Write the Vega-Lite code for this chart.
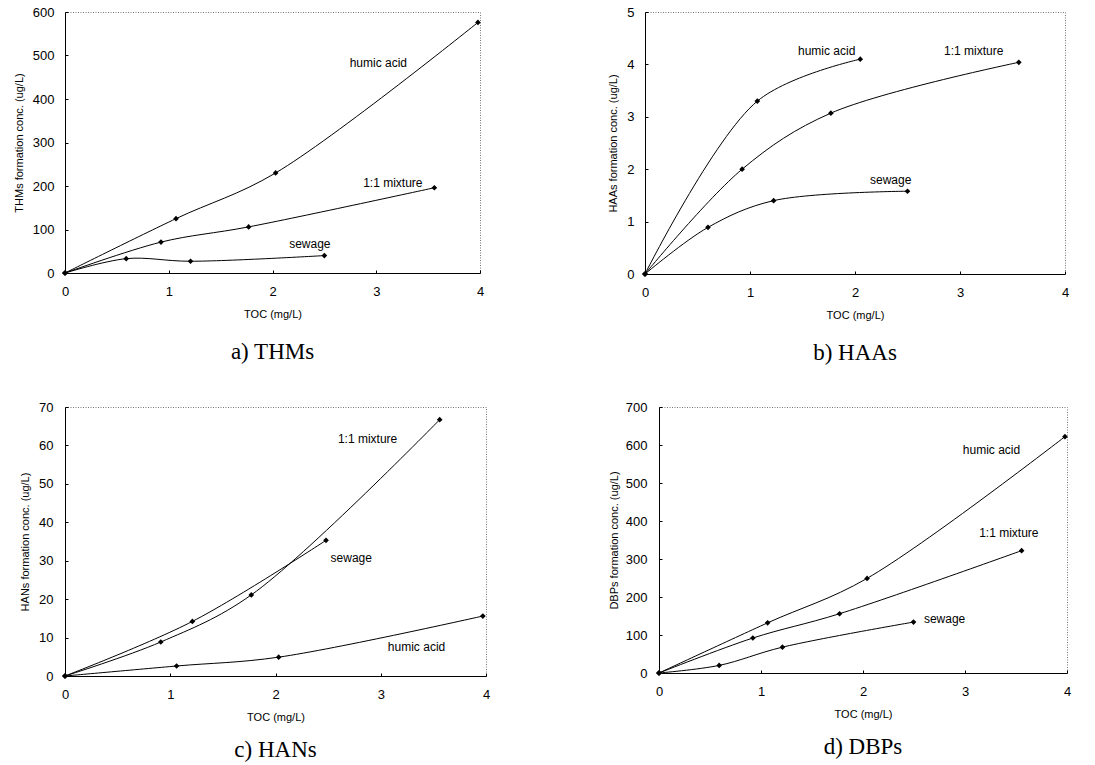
{
  "$schema": "https://vega.github.io/schema/vega-lite/v6.json",
  "padding": {"left": 12, "top": 5, "right": 5, "bottom": 0},
  "background": "white",
  "config": {
    "view": {"stroke": "#777777", "strokeDash": [1, 1.5], "strokeWidth": 1},
    "axis": {
      "domainColor": "black", "domainWidth": 1, "grid": false,
      "tickColor": "black", "tickSize": -3, "tickWidth": 1, "labelOverlap": false, "labelFlush": false,
      "labelFont": "Liberation Sans", "labelFontSize": 13, "labelColor": "black",
      "titleFont": "Liberation Sans", "titleFontSize": 11, "titleFontWeight": "normal", "titleColor": "black"
    },
    "axisX": {"labelPadding": 15, "titlePadding": 10, "format": "d"},
    "axisY": {"labelPadding": 14, "titlePadding": 8},
    "title": {"font": "Liberation Serif", "fontSize": 23, "fontWeight": "normal", "color": "black", "orient": "bottom", "frame": "group", "anchor": "middle", "offset": 22},
    "text": {"font": "Liberation Sans", "fontSize": 12, "color": "black"}
  },
  "datasets": {
    "thm": [
      {"series": "humic acid", "toc": 0, "conc": 0},
      {"series": "humic acid", "toc": 1.07, "conc": 125},
      {"series": "humic acid", "toc": 2.03, "conc": 230},
      {"series": "humic acid", "toc": 3.98, "conc": 576},
      {"series": "1:1 mixture", "toc": 0, "conc": 0},
      {"series": "1:1 mixture", "toc": 0.925, "conc": 71},
      {"series": "1:1 mixture", "toc": 1.77, "conc": 106},
      {"series": "1:1 mixture", "toc": 3.56, "conc": 196},
      {"series": "sewage", "toc": 0, "conc": 0},
      {"series": "sewage", "toc": 0.59, "conc": 33},
      {"series": "sewage", "toc": 1.21, "conc": 27},
      {"series": "sewage", "toc": 2.5, "conc": 40}
    ],
    "thmLab": [
      {"toc": 3.02, "conc": 482, "label": "humic acid"},
      {"toc": 3.16, "conc": 206, "label": "1:1 mixture"},
      {"toc": 2.36, "conc": 66, "label": "sewage"}
    ],
    "haa": [
      {"series": "humic acid", "toc": 0, "conc": 0},
      {"series": "humic acid", "toc": 1.07, "conc": 3.3},
      {"series": "humic acid", "toc": 2.05, "conc": 4.1},
      {"series": "1:1 mixture", "toc": 0, "conc": 0},
      {"series": "1:1 mixture", "toc": 0.925, "conc": 2.0},
      {"series": "1:1 mixture", "toc": 1.77, "conc": 3.07},
      {"series": "1:1 mixture", "toc": 3.56, "conc": 4.04},
      {"series": "sewage", "toc": 0, "conc": 0},
      {"series": "sewage", "toc": 0.6, "conc": 0.89},
      {"series": "sewage", "toc": 1.225, "conc": 1.4},
      {"series": "sewage", "toc": 2.5, "conc": 1.58}
    ],
    "haaLab": [
      {"toc": 1.73, "conc": 4.25, "label": "humic acid"},
      {"toc": 3.13, "conc": 4.25, "label": "1:1 mixture"},
      {"toc": 2.34, "conc": 1.8, "label": "sewage"}
    ],
    "han": [
      {"series": "humic acid", "toc": 0, "conc": 0},
      {"series": "humic acid", "toc": 1.06, "conc": 2.6},
      {"series": "humic acid", "toc": 2.03, "conc": 4.9},
      {"series": "humic acid", "toc": 3.97, "conc": 15.6},
      {"series": "1:1 mixture", "toc": 0, "conc": 0},
      {"series": "1:1 mixture", "toc": 0.91, "conc": 8.85},
      {"series": "1:1 mixture", "toc": 1.77, "conc": 21.1},
      {"series": "1:1 mixture", "toc": 3.56, "conc": 66.7},
      {"series": "sewage", "toc": 0, "conc": 0},
      {"series": "sewage", "toc": 1.21, "conc": 14.2},
      {"series": "sewage", "toc": 2.48, "conc": 35.3}
    ],
    "hanLab": [
      {"toc": 2.875, "conc": 61.6, "label": "1:1 mixture"},
      {"toc": 2.72, "conc": 30.6, "label": "sewage"},
      {"toc": 3.34, "conc": 7.5, "label": "humic acid"}
    ],
    "dbp": [
      {"series": "humic acid", "toc": 0, "conc": 0},
      {"series": "humic acid", "toc": 1.065, "conc": 132},
      {"series": "humic acid", "toc": 2.04, "conc": 249},
      {"series": "humic acid", "toc": 3.98, "conc": 622},
      {"series": "1:1 mixture", "toc": 0, "conc": 0},
      {"series": "1:1 mixture", "toc": 0.92, "conc": 92},
      {"series": "1:1 mixture", "toc": 1.77, "conc": 156},
      {"series": "1:1 mixture", "toc": 3.555, "conc": 322},
      {"series": "sewage", "toc": 0, "conc": 0},
      {"series": "sewage", "toc": 0.59, "conc": 20},
      {"series": "sewage", "toc": 1.21, "conc": 68},
      {"series": "sewage", "toc": 2.495, "conc": 134}
    ],
    "dbpLab": [
      {"toc": 3.26, "conc": 588, "label": "humic acid"},
      {"toc": 3.43, "conc": 369, "label": "1:1 mixture"},
      {"toc": 2.8, "conc": 143, "label": "sewage"}
    ]
  },
  "columns": 2,
  "align": "none",
  "spacing": {"row": 34, "column": 116},
  "concat": [
    {
      "width": 415, "height": 261,
      "title": {"text": "a) THMs"},
      "encoding": {
        "x": {"field": "toc", "type": "quantitative", "scale": {"domain": [0, 4], "nice": false},
              "axis": {"title": "TOC (mg/L)", "values": [0, 1, 2, 3, 4]}},
        "y": {"field": "conc", "type": "quantitative", "scale": {"domain": [0, 600], "nice": false},
              "axis": {"title": "THMs formation conc. (ug/L)", "values": [0, 100, 200, 300, 400, 500, 600], "labelOverlap": false}}
      },
      "layer": [
        {
          "data": {"name": "thm"},
          "mark": {"type": "line", "interpolate": "catmull-rom", "color": "black", "strokeWidth": 1,
                   "point": {"shape": "diamond", "filled": true, "color": "black", "size": 32}},
          "encoding": {"detail": {"field": "series"}}
        },
        {
          "data": {"name": "thmLab"},
          "mark": {"type": "text", "align": "center", "baseline": "middle"},
          "encoding": {"text": {"field": "label"}}
        }
      ]
    },
    {
      "width": 420, "height": 262,
      "title": {"text": "b) HAAs"},
      "encoding": {
        "x": {"field": "toc", "type": "quantitative", "scale": {"domain": [0, 4], "nice": false},
              "axis": {"title": "TOC (mg/L)", "values": [0, 1, 2, 3, 4]}},
        "y": {"field": "conc", "type": "quantitative", "scale": {"domain": [0, 5], "nice": false},
              "axis": {"title": "HAAs formation conc. (ug/L)", "values": [0, 1, 2, 3, 4, 5], "labelOverlap": false}}
      },
      "layer": [
        {
          "data": {"name": "haa"},
          "mark": {"type": "line", "interpolate": "catmull-rom", "color": "black", "strokeWidth": 1,
                   "point": {"shape": "diamond", "filled": true, "color": "black", "size": 32}},
          "encoding": {"detail": {"field": "series"}}
        },
        {
          "data": {"name": "haaLab"},
          "mark": {"type": "text", "align": "center", "baseline": "middle"},
          "encoding": {"text": {"field": "label"}}
        }
      ]
    },
    {
      "width": 421, "height": 269,
      "title": {"text": "c) HANs", "offset": 17},
      "encoding": {
        "x": {"field": "toc", "type": "quantitative", "scale": {"domain": [0, 4], "nice": false},
              "axis": {"title": "TOC (mg/L)", "values": [0, 1, 2, 3, 4]}},
        "y": {"field": "conc", "type": "quantitative", "scale": {"domain": [0, 70], "nice": false},
              "axis": {"title": "HANs formation conc. (ug/L)", "values": [0, 10, 20, 30, 40, 50, 60, 70], "labelOverlap": false, "labelPadding": 15, "titlePadding": 8}}
      },
      "layer": [
        {
          "data": {"name": "han"},
          "mark": {"type": "line", "interpolate": "catmull-rom", "color": "black", "strokeWidth": 1,
                   "point": {"shape": "diamond", "filled": true, "color": "black", "size": 32}},
          "encoding": {"detail": {"field": "series"}}
        },
        {
          "data": {"name": "hanLab"},
          "mark": {"type": "text", "align": "center", "baseline": "middle"},
          "encoding": {"text": {"field": "label"}}
        }
      ]
    },
    {
      "width": 408, "height": 266,
      "title": {"text": "d) DBPs", "offset": 17},
      "encoding": {
        "x": {"field": "toc", "type": "quantitative", "scale": {"domain": [0, 4], "nice": false},
              "axis": {"title": "TOC (mg/L)", "values": [0, 1, 2, 3, 4]}},
        "y": {"field": "conc", "type": "quantitative", "scale": {"domain": [0, 700], "nice": false},
              "axis": {"title": "DBPs formation conc. (ug/L)", "values": [0, 100, 200, 300, 400, 500, 600, 700], "labelOverlap": false, "labelPadding": 15, "titlePadding": 6}}
      },
      "layer": [
        {
          "data": {"name": "dbp"},
          "mark": {"type": "line", "interpolate": "catmull-rom", "color": "black", "strokeWidth": 1,
                   "point": {"shape": "diamond", "filled": true, "color": "black", "size": 32}},
          "encoding": {"detail": {"field": "series"}}
        },
        {
          "data": {"name": "dbpLab"},
          "mark": {"type": "text", "align": "center", "baseline": "middle"},
          "encoding": {"text": {"field": "label"}}
        }
      ]
    }
  ]
}
